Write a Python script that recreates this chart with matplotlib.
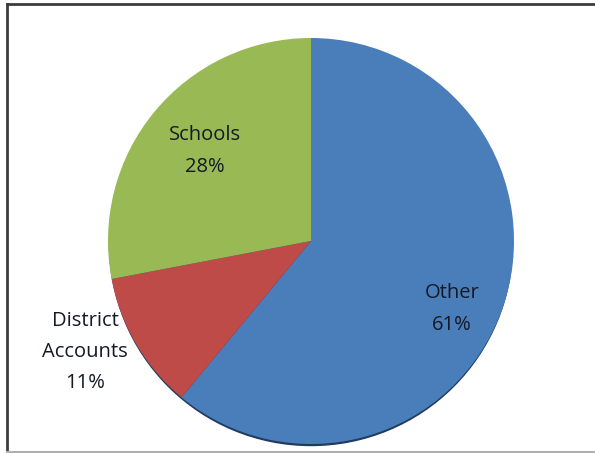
import matplotlib.pyplot as plt
from matplotlib.patches import Circle
from matplotlib.lines import Line2D

# Share of total by account type
labels = ["Other", "District\nAccounts", "Schools"]
shares = [61, 11, 28]
colors = ["#4a7ebb", "#be4b48", "#98b954"]

# label anchor points in pixel space (y measured from the bottom)
label_xy = [(452, 144), (85, 101), (205, 302)]

W, H = 595, 453
fig = plt.figure(figsize=(W / 100, H / 100), dpi=100)
ax = fig.add_axes([0, 0, 1, 1])

cx, cy, rad = 311, 212, 203

# thin dark rim under the pie
ax.add_patch(Circle((cx, cy - 3), rad - 1.5, color="#1f3b5e", zorder=0))

wedges, _ = ax.pie(shares, colors=colors, startangle=90, counterclock=False,
                   center=(cx, cy), radius=rad,
                   wedgeprops=dict(linewidth=0))

for lab, val, (x, y) in zip(labels, shares, label_xy):
    ax.text(x, y, "{}\n{}%".format(lab, val), ha="center", va="center",
            fontsize=14.5, family="Open Sans", color="#141a24",
            linespacing=1.75)

ax.set_xlim(0, W)
ax.set_ylim(0, H)
ax.set_aspect("equal")
ax.axis("off")

# chart border
fig.add_artist(Line2D([7 / W, 7 / W], [1.5 / H, 1 - 4 / H], transform=fig.transFigure,
                      color="#3c3c3c", lw=2))
fig.add_artist(Line2D([7 / W, 1], [1 - 4 / H, 1 - 4 / H], transform=fig.transFigure,
                      color="#3c3c3c", lw=2))
fig.add_artist(Line2D([7 / W, 1], [1.5 / H, 1.5 / H], transform=fig.transFigure,
                      color="#b0b0b0", lw=1.5))

fig.savefig("out.png", dpi=100, facecolor="white")
